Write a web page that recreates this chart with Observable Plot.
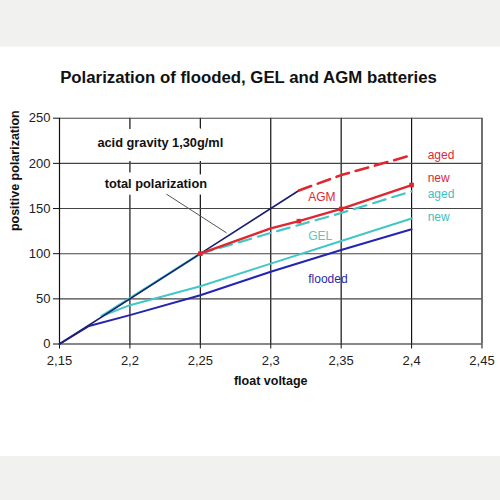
<!DOCTYPE html>
<html>
<head>
<meta charset="utf-8">
<script src="https://cdn.jsdelivr.net/npm/d3@7"></script>
<script src="https://cdn.jsdelivr.net/npm/@observablehq/plot@0.6"></script>
<style>
  html, body { margin: 0; padding: 0; width: 500px; height: 500px; background: #f1f1ef; overflow: hidden; }
  #card { position: absolute; left: 0; top: 46px; width: 500px; height: 409px; background: #ffffff; border-top: 1px solid #f7f7f5; }
  #title { position: absolute; left: 0; top: 21px; width: 497px; text-align: center;
           font-family: "Liberation Sans", Arial, sans-serif; font-weight: bold; font-size: 16.8px; color: #111; }
  #chart { position: absolute; left: 0; top: 0; }
</style>
</head>
<body>
<div id="card">
  <div id="chart"></div>
  <div id="title">Polarization of flooded, GEL and AGM batteries</div>
</div>
<script>
// ---- data ----
const xTicks = [2.15, 2.2, 2.25, 2.3, 2.35, 2.4, 2.45];
const yTicks = [0, 50, 100, 150, 200, 250];

const totalV = [2.15, 2.2, 2.25, 2.3, 2.32];
const totalP = [0, 50, 100, 150, 170];

const floodedV = [2.15, 2.171, 2.2, 2.25, 2.3, 2.35, 2.4];
const floodedP = [0, 20, 32, 54, 80, 104, 127];

const gelNewV = [2.18, 2.2, 2.25, 2.3, 2.35, 2.4];
const gelNewP = [31, 43, 64, 89, 114, 139];

const gelAgedLeadV = [2.18, 2.25];
const gelAgedLeadP = [31, 100];
const gelAgedV = [2.25, 2.3, 2.35, 2.4];
const gelAgedP = [100, 123, 145, 169];

const agmNewV = [2.25, 2.3, 2.32, 2.35, 2.4];
const agmNewP = [100, 128, 136, 149.5, 176];
const agmMarkV = [2.25, 2.32, 2.35, 2.4];
const agmMarkP = [100, 136, 149.5, 176];

const agmAgedV = [2.32, 2.35, 2.4];
const agmAgedP = [170, 187, 209];

// annotations
const noteText = ["acid gravity 1,30g/ml", "total polarization"];
const noteV = [2.2216, 2.2184];
const noteP = [223, 177.7];

const leaderV = [2.2259, 2.2686];
const leaderP = [166, 123];

const seriesText = ["aged", "new", "aged", "new", "AGM", "GEL", "flooded"];
const seriesV = [2.4114, 2.4114, 2.4114, 2.4114, 2.3266, 2.3266, 2.3266];
const seriesP = [208.7, 183.3, 165.6, 140.1, 162.2, 119, 71.4];
const seriesColor = ["#d42a3a", "#d42a3a", "#3cc2c2", "#3cc2c2", "#e0262e", "#5cc6c6", "#2a2aa8"];
const seriesWeight = ["normal", "normal", "normal", "normal", "normal", "normal", "bold"];

// ---- build tables ----
const zip = (xs, ys) => xs.map((x, i) => ({x, y: ys[i]}));
const notes = noteText.map((t, i) => ({t, x: noteV[i], y: noteP[i]}));
const labels = seriesText.map((t, i) => ({t, x: seriesV[i], y: seriesP[i], c: seriesColor[i], w: seriesWeight[i]}));

const RED = "#e0262e", CYAN = "#43c6c6", NAVY = "#1c1f70", BLUE = "#2424b0";
const dash = "13,7";

const plot = Plot.plot({
  width: 500,
  height: 409,
  marginTop: 70.7,
  marginBottom: 112.5,
  marginLeft: 59,
  marginRight: 18.5,
  x: {domain: [2.15, 2.45]},
  y: {domain: [0, 250]},
  style: {fontFamily: "'Liberation Sans', Arial, sans-serif", fontSize: "13px", background: "transparent", color: "#222"},
  marks: [
    Plot.gridX(xTicks.slice(1), {stroke: "#111", strokeOpacity: 1, strokeWidth: 1.2}),
    // white boxes behind the notes
    Plot.text(notes.slice(0, 1), {x: "x", y: "y", text: "t", fill: "white", stroke: "white", strokeWidth: 22, fontSize: 12.8, fontWeight: "bold"}),
    Plot.text(notes.slice(1), {x: "x", y: "y", text: "t", fill: "white", stroke: "white", strokeWidth: 13, fontSize: 12.8, fontWeight: "bold"}),
    Plot.gridY(yTicks.slice(1), {stroke: "#444", strokeOpacity: 1, strokeWidth: 1.1}),
    Plot.ruleX([2.15], {stroke: "#111", strokeWidth: 1.2}),
    Plot.ruleY([0], {stroke: "#111", strokeWidth: 1.2}),
    Plot.axisX(xTicks, {tickSize: 5, tickPadding: 7, label: null, tickFormat: d => String(d).replace(".", ","), stroke: "#111", fontSize: 13}),
    Plot.axisY(yTicks, {tickSize: 6, tickPadding: 3, label: null, stroke: "#111", fontSize: 13}),
    // leader line
    Plot.link([0], {x1: () => leaderV[0], y1: () => leaderP[0], x2: () => leaderV[1], y2: () => leaderP[1], stroke: "#555", strokeWidth: 1}),
    // series
    Plot.line(zip(floodedV, floodedP), {x: "x", y: "y", stroke: BLUE, strokeWidth: 2}),
    Plot.line(zip(gelNewV, gelNewP), {x: "x", y: "y", stroke: CYAN, strokeWidth: 2}),
    Plot.line(zip(gelAgedLeadV, gelAgedLeadP), {x: "x", y: "y", stroke: CYAN, strokeWidth: 2.4}),
    Plot.line(zip(totalV, totalP), {x: "x", y: "y", stroke: NAVY, strokeWidth: 1.6}),
    Plot.line(zip(gelAgedV, gelAgedP), {x: "x", y: "y", stroke: CYAN, strokeWidth: 2.2, strokeDasharray: dash}),
    Plot.line(zip(agmAgedV, agmAgedP), {x: "x", y: "y", stroke: RED, strokeWidth: 2.6, strokeDasharray: dash}),
    Plot.line(zip(agmNewV, agmNewP), {x: "x", y: "y", stroke: RED, strokeWidth: 2.4}),
    Plot.dot(zip(agmMarkV, agmMarkP), {x: "x", y: "y", symbol: "square", r: 2.6, fill: RED}),
    // texts
    Plot.text(notes, {x: "x", y: "y", text: "t", fill: "#111", fontSize: 12.8, fontWeight: "bold"}),
    Plot.text(labels, {x: "x", y: "y", text: "t", fill: "c", fontWeight: "w", fontSize: 12, textAnchor: "start"}),
    Plot.text(["float voltage"], {frameAnchor: "bottom", dy: 40.5, text: d => d, fontWeight: "bold", fontSize: 12.5, fill: "#111"}),
    Plot.text(["positive polarization"], {frameAnchor: "left", dx: -45, rotate: -90, text: d => d, fontWeight: "bold", fontSize: 12.5, fill: "#111"})
  ]
});
document.getElementById("chart").appendChild(plot);
</script>
</body>
</html>
